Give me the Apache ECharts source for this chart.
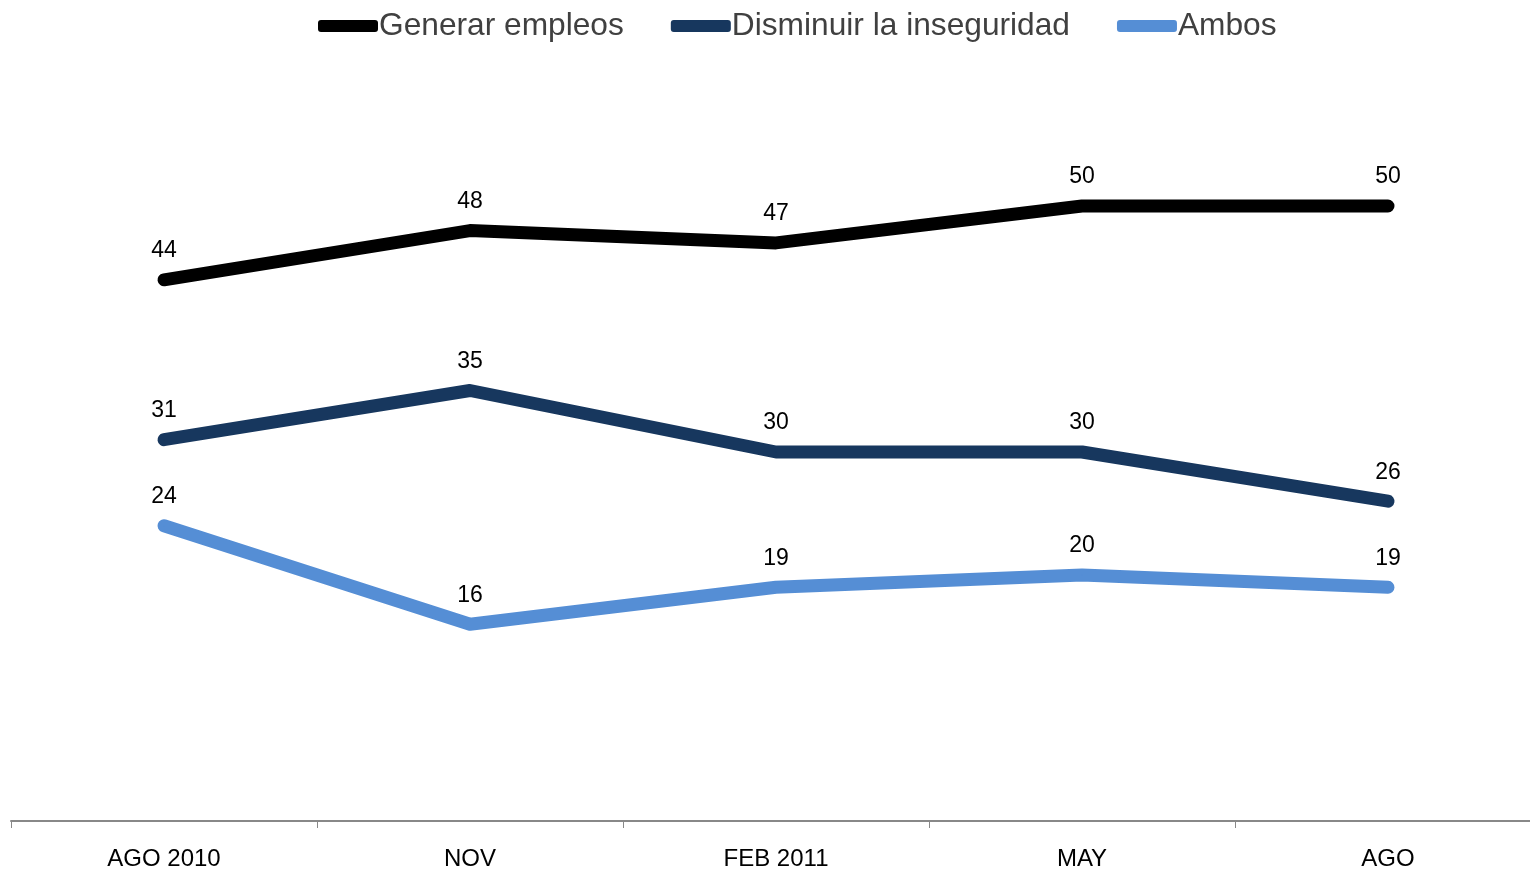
<!DOCTYPE html>
<html>
<head>
<meta charset="utf-8">
<style>
  html, body { margin: 0; padding: 0; background: #fff; }
  #chart { width: 1530px; height: 871px; }
</style>
<script src="https://cdn.jsdelivr.net/npm/echarts@6/dist/echarts.min.js"></script>
</head>
<body>
<div id="chart"></div>
<script>
// periodos del eje x
var categories = ['AGO 2010', 'NOV', 'FEB 2011', 'MAY', 'AGO']
// series
var generarEmpleos = [44, 48, 47, 50, 50]
var disminuirInseguridad = [31, 35, 30, 30, 26]
var ambos = [24, 16, 19, 20, 19]

var FONT = '"Liberation Sans", Arial, sans-serif'

function lineSerie(name, data, color) {
  return {
    name: name,
    type: 'line',
    data: data,
    symbol: 'circle',
    symbolSize: 1,   // casi invisible, solo para que salgan las etiquetas
    lineStyle: { color: color, width: 13, cap: 'round', join: 'round' },
    itemStyle: { color: color },
    label: {
      show: true,
      position: 'top',
      distance: 17,
      color: '#000',
      fontSize: 23,
      fontFamily: FONT
    },
    animation: false
  }
}

var chart = echarts.init(document.getElementById('chart'))
chart.setOption({
  legend: {
    top: 5,
    left: 313,
    itemWidth: 60,
    itemHeight: 12,
    itemGap: 47,
    icon: 'roundRect',
    textStyle: { fontSize: 31.7, color: '#404040', fontFamily: FONT, padding: [0, 0, 0, -4] },
    data: ['Generar empleos', 'Disminuir la inseguridad', 'Ambos']
  },
  grid: {
    left: 11,
    top: 83,
    width: 1530,
    bottom: 50,
    outerBoundsMode: 'none'
  },
  xAxis: {
    type: 'category',
    data: categories,
    boundaryGap: true,
    axisLine: { lineStyle: { color: '#888', width: 2 } },
    axisTick: { show: true, length: 7, lineStyle: { color: '#888', width: 1 } },
    axisLabel: { fontSize: 24, color: '#000', fontFamily: FONT, margin: 26 }
  },
  yAxis: {
    type: 'value',
    min: 0,
    max: 60,
    show: false,
    splitLine: { show: false }
  },
  series: [
    lineSerie('Generar empleos', generarEmpleos, '#000000'),
    lineSerie('Disminuir la inseguridad', disminuirInseguridad, '#17375E'),
    lineSerie('Ambos', ambos, '#558ED5')
  ]
})
</script>
</body>
</html>
